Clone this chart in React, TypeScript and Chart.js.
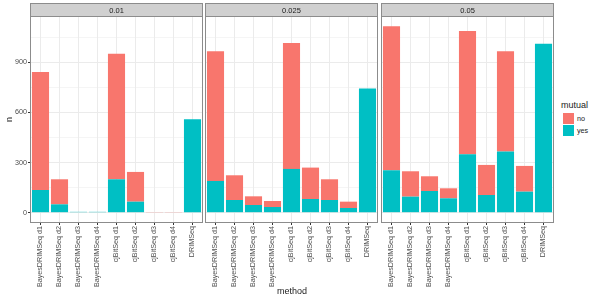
import React, { useEffect, useRef } from "react";
import { Chart, registerables } from "chart.js";

Chart.register(...registerables);

const categories = [
  "BayesDRIMSeq d1", "BayesDRIMSeq d2", "BayesDRIMSeq d3", "BayesDRIMSeq d4",
  "cjBitSeq d1", "cjBitSeq d2", "cjBitSeq d3", "cjBitSeq d4", "DRIMSeq",
];
const panelTitles = ["0.01", "0.025", "0.05"];

const yes001 = [136, 50, 5, 5, 200, 66, 0, 0, 560];
const no001 = [706, 150, 0, 0, 752, 178, 4, 4, 0];
const yes0025 = [190, 76, 46, 34, 262, 82, 76, 28, 744];
const no0025 = [776, 148, 52, 36, 754, 188, 124, 38, 0];
const yes005 = [254, 96, 130, 86, 350, 106, 366, 126, 1012];
const no005 = [862, 152, 88, 60, 738, 180, 600, 154, 0];

const yTicks = [0, 150, 300, 450, 600, 750, 900, 1050];
const yMin = -55.8;
const yMax = 1171.8;

const FONT = "'Liberation Sans', Arial, Helvetica, sans-serif";
const COL_YES = "#00BFC4";
const COL_NO = "#F8766D";

const panelPlugin = (title: string) => ({
  id: "panelDeco",
  afterDraw(chart: any) {
    const { ctx, chartArea } = chart;
    const { left, right, top, bottom } = chartArea;
    ctx.save();
    ctx.strokeStyle = "#8c8c8c";
    ctx.lineWidth = 1;
    ctx.strokeRect(Math.round(left) - 0.5, Math.round(top) - 0.5, Math.round(right - left) + 1, Math.round(bottom - top) + 1);
    const sh = 13;
    ctx.fillStyle = "#D0D0D0";
    ctx.fillRect(Math.round(left) - 0.5, Math.round(top) - 0.5 - sh, Math.round(right - left) + 1, sh);
    ctx.strokeRect(Math.round(left) - 0.5, Math.round(top) - 0.5 - sh, Math.round(right - left) + 1, sh);
    ctx.fillStyle = "#1A1A1A";
    ctx.font = `normal 7.5px ${FONT}`;
    ctx.textAlign = "center";
    ctx.textBaseline = "middle";
    ctx.fillText(title, (left + right) / 2, top - sh / 2);
    ctx.restore();
  },
});

function Panel(props: { idx: number; yes: number[]; no: number[]; left: number; width: number; showY: boolean }) {
  const ref = useRef<HTMLCanvasElement | null>(null);
  useEffect(() => {
    if (!ref.current) return;
    const chart = new Chart(ref.current, {
      type: "bar",
      data: {
        labels: categories,
        datasets: [
          { label: "yes", data: props.yes, backgroundColor: COL_YES, stack: "s" },
          { label: "no", data: props.no, backgroundColor: COL_NO, stack: "s" },
        ],
      },
      options: {
        animation: false,
        responsive: false,
        maintainAspectRatio: false,
        layout: { padding: { top: 17, left: props.showY ? 0 : 2, right: 2, bottom: 0 } },
        plugins: { legend: { display: false }, tooltip: { enabled: false } },
        datasets: { bar: { categoryPercentage: 1, barPercentage: 0.9 } },
        scales: {
          x: {
            stacked: true,
            grid: { offset: false, color: "#EBEBEB", tickColor: "#333333", tickLength: 3, lineWidth: 1 },
            border: { display: false },
            ticks: {
              minRotation: 90, maxRotation: 90, autoSkip: false, padding: 1,
              color: "#4D4D4D", font: { size: 7.2, family: FONT, weight: "normal" },
            },
            afterFit: (s: any) => { s.height = 78; },
          },
          y: {
            stacked: true,
            min: yMin,
            max: yMax,
            afterBuildTicks: (s: any) => { s.ticks = yTicks.map((v) => ({ value: v })); },
            grid: {
              color: "#EBEBEB",
              lineWidth: (c: any) => (c.tick && c.tick.value % 300 === 0 ? 1 : 0.5),
              tickColor: (c: any) => (props.showY && c.tick && c.tick.value % 300 === 0 ? "#333333" : "rgba(0,0,0,0)"),
              tickLength: 3,
              drawTicks: props.showY,
            },
            border: { display: false },
            ticks: {
              display: props.showY,
              padding: 1,
              color: "#4D4D4D",
              font: { size: 7.2, family: FONT, weight: "normal" },
              callback: (v: any) => (Number(v) % 300 === 0 ? String(v) : ""),
            },
            title: {
              display: props.showY,
              text: "n",
              color: "#222222",
              font: { size: 9, family: FONT, weight: "normal" },
              padding: { top: 4, bottom: 2 },
            },
            afterFit: (s: any) => { s.width = props.showY ? 31 : 0; },
          },
        },
      },
      plugins: [panelPlugin(panelTitles[props.idx])],
    } as any);
    return () => chart.destroy();
  }, []);
  return (
    <canvas
      ref={ref}
      width={props.width}
      height={300}
      style={{ position: "absolute", left: props.left, top: 0, width: props.width, height: 300 }}
    />
  );
}

export default function App() {
  const txt: React.CSSProperties = { position: "absolute", fontWeight: "normal", fontFamily: FONT, color: "#222222" };
  return (
    <div style={{ position: "absolute", left: 0, top: 0, width: 600, height: 300, background: "#fff", fontFamily: FONT }}>
      <Panel idx={0} yes={yes001} no={no001} left={0} width={204} showY={true} />
      <Panel idx={1} yes={yes0025} no={no0025} left={204} width={175} showY={false} />
      <Panel idx={2} yes={yes005} no={no005} left={380} width={175} showY={false} />
      <div style={{ ...txt, left: 0, width: 584, top: 285, textAlign: "center", fontSize: 9, lineHeight: "12px" }}>
        method
      </div>
      <div style={{ ...txt, left: 561, top: 100, fontSize: 9, lineHeight: "11px" }}>
        mutual
      </div>
      {[["no", COL_NO], ["yes", COL_YES]].map(([lab, col], i) => (
        <div key={lab} style={{ position: "absolute", left: 562, top: 112 + i * 12.5, height: 12, display: "flex", alignItems: "center" }}>
          <div style={{ width: 11, height: 11, background: col, border: "0.5px solid #fff" }} />
          <span style={{ fontSize: 7.2, color: "#222222", fontWeight: "normal", fontFamily: FONT, marginLeft: 2 }}>{lab}</span>
        </div>
      ))}
    </div>
  );
}
